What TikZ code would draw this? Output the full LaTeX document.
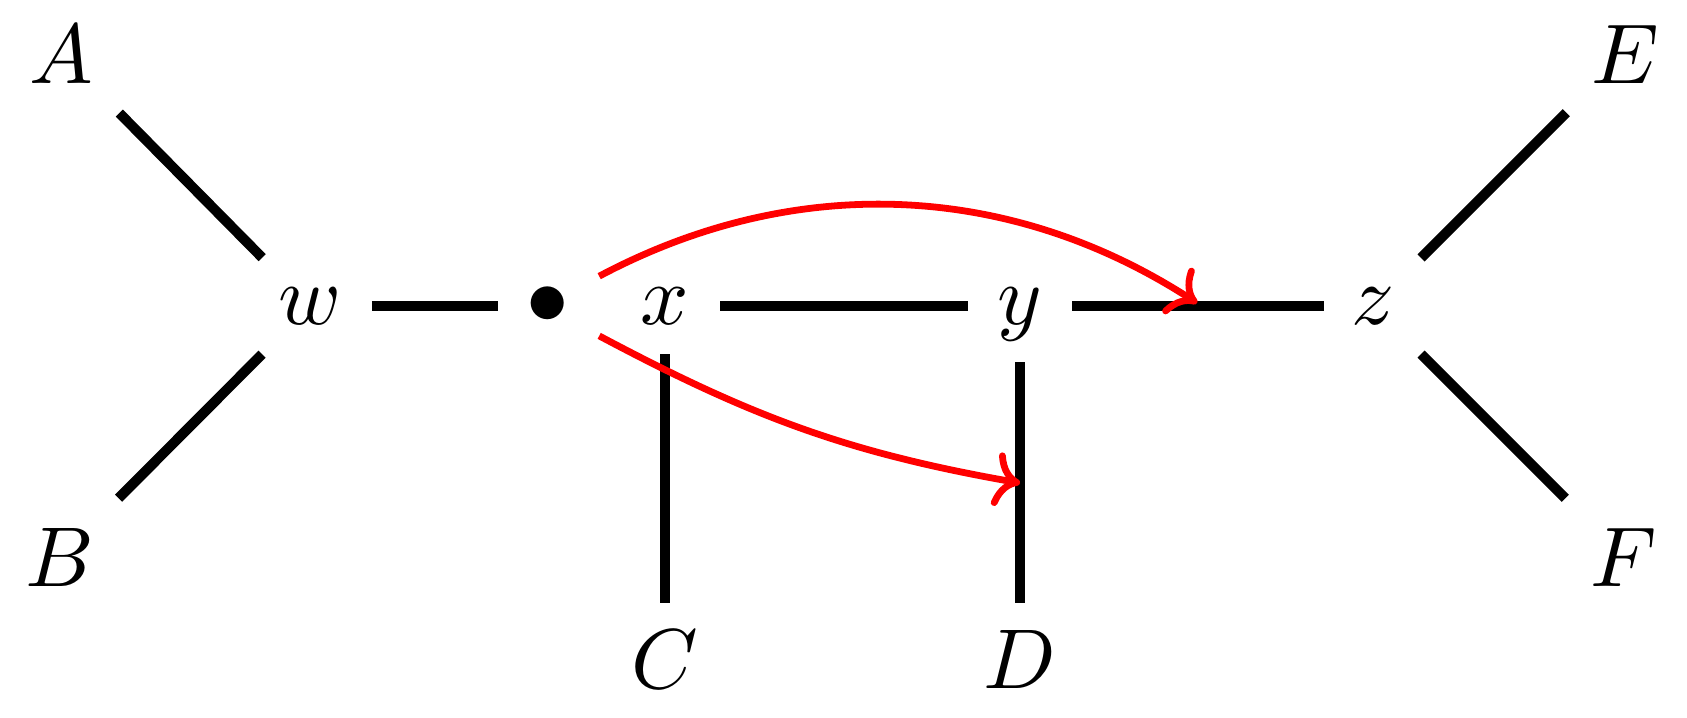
\documentclass[tikz,border=0pt]{standalone}
\usetikzlibrary{arrows.meta}
\begin{document}
\begin{tikzpicture}[x=0.1178pt,y=-0.1178pt,
  capnode/.style={inner sep=0pt,text height=6.83pt,text depth=0pt},
  lownode/.style={inner sep=0pt,text height=4.31pt,text depth=0pt},
  edgeline/.style={line width=1.18pt},
  redarrow/.style={draw=red,line width=0.8pt,-{To[length=3.0pt,width=6.4pt]}}]
\useasboundingbox (0,0) rectangle (1687,717);
\node[capnode] (A) at (61,54) {$A$};
\node[capnode] (B) at (60,557) {$B$};
\node[capnode] (E) at (1625,54) {$E$};
\node[capnode] (F) at (1624,557) {$F$};
\node[capnode] (C) at (665,659) {$C$};
\node[capnode] (D) at (1020,659) {$D$};
\node[lownode] (w) at (310,306) {$w$};
\node[lownode,circle,minimum size=13.66pt] (b) at (547.5,306) {$\bullet$};
\node[lownode] (x) at (665,306) {$x$};
\node[lownode] (y) at (1020,306) {$y$};
\node[lownode] (z) at (1373,306) {$z$};
\coordinate (t1) at (1197,303);
\coordinate (t2) at (1020,483);
\draw[edgeline,shorten <=9.78pt,shorten >=8.01pt] (A.center) -- (w.center);
\draw[edgeline,shorten <=9.78pt,shorten >=8.01pt] (B.center) -- (w.center);
\draw[edgeline,shorten <=9.78pt,shorten >=8.01pt] (E.center) -- (z.center);
\draw[edgeline,shorten <=9.78pt,shorten >=8.01pt] (F.center) -- (z.center);
\draw[edgeline,shorten <=7.30pt,shorten >=5.83pt] (w.center) -- (b.center);
\draw[edgeline,shorten <=6.48pt,shorten >=6.13pt] (x.center) -- (y.center);
\draw[edgeline,shorten <=6.13pt,shorten >=5.77pt] (y.center) -- (z.center);
\draw[edgeline,shorten <=5.65pt,shorten >=6.60pt] (x.center) -- (C.center);
\draw[edgeline,shorten <=6.60pt,shorten >=6.60pt] (y.center) -- (D.center);
\draw[redarrow] (b.30) to[out=28,in=147,looseness=0.95] (t1);
\draw[redarrow] (b.-30) to[out=-28,in=170] (t2);
\end{tikzpicture}
\end{document}
